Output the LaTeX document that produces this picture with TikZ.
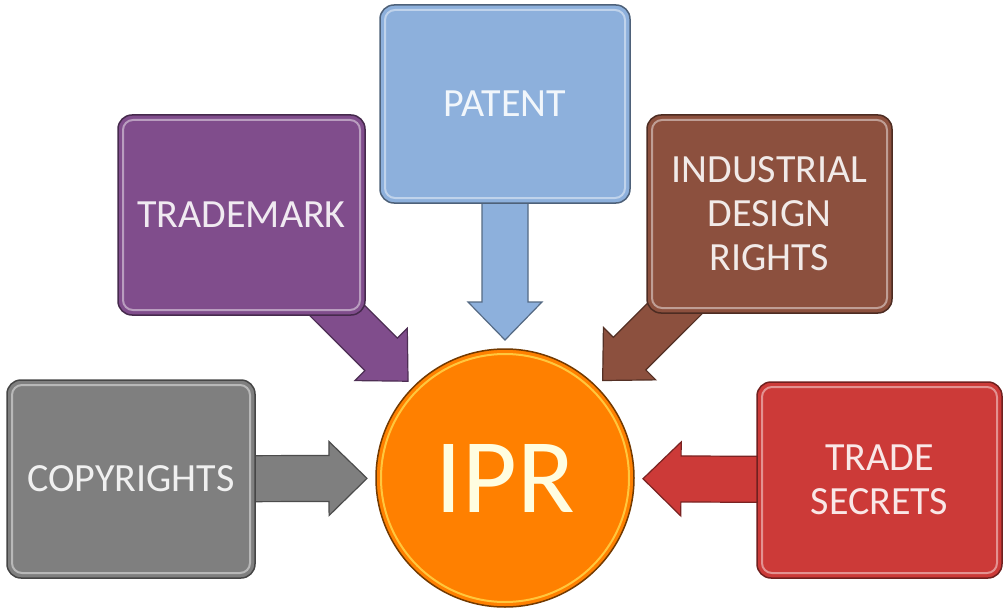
\documentclass[tikz,border=0pt]{standalone}
\usepackage{fontspec}
\setmainfont{Carlito}
\usetikzlibrary{calc,backgrounds}
\definecolor{cpatent}{RGB}{141,176,220}
\definecolor{ctrade}{RGB}{128,77,140}
\definecolor{cindus}{RGB}{140,80,62}
\definecolor{ccopy}{RGB}{127,127,127}
\definecolor{csecret}{RGB}{204,58,56}
\definecolor{cipr}{RGB}{255,128,0}
\tikzset{
  box/.style={rectangle, rounded corners=14pt, fill=#1, draw=#1!55!black, line width=1.5pt,
    text=white!88!#1, font=\fontsize{40}{44}\selectfont, align=center, inner sep=0pt,
    path picture={\draw[white, opacity=.45, line width=2pt, rounded corners=10pt]
      ([shift={(5pt,5pt)}]path picture bounding box.south west) rectangle
      ([shift={(-5pt,-5pt)}]path picture bounding box.north east);}},
  ipr/.style={circle, fill=cipr, draw=cipr!45!black, line width=1.5pt, inner sep=0pt,
    minimum size=258pt, text=white!88!yellow, font=\fontsize{106}{110}\selectfont,
    path picture={\draw[yellow!60!white, opacity=.6, line width=2pt]
      (path picture bounding box.center) circle[radius=124pt];}},
  barrow/.style={fill=#1, draw=#1!60!black, line width=1.2pt, line join=miter},
}
\newcommand\blockarrow[3]{%
  \path ($(#2)!38pt!(#1.center)$) coordinate (hb);
  \draw[barrow=#3] ($(#1.center)!23pt!90:(#2)$) -- ($(hb)!23pt!90:(#2)$)
    -- ($(hb)!37pt!90:(#2)$) -- (#2) -- ($(hb)!37pt!-90:(#2)$)
    -- ($(hb)!23pt!-90:(#2)$) -- ($(#1.center)!23pt!-90:(#2)$) -- cycle;}
\begin{document}
\begin{tikzpicture}[x=1pt,y=-1pt]
\useasboundingbox (0,0) rectangle (1005,610);
\node[box=cpatent, minimum width=250pt, minimum height=198pt] (patent) at (505,104) {PATENT};
\node[box=ctrade, minimum width=247pt, minimum height=200pt] (trademark) at (241.5,215) {TRADEMARK};
\node[box=cindus, minimum width=245pt, minimum height=198pt] (industrial) at (769.5,214) {INDUSTRIAL\\DESIGN\\RIGHTS};
\node[box=ccopy, minimum width=248pt, minimum height=198pt] (copyrights) at (131,479) {COPYRIGHTS};
\node[box=csecret, minimum width=245pt, minimum height=196pt] (secrets) at (879.5,480) {TRADE\\SECRETS};
\node[ipr] (ipr) at (505,478) {IPR};
\coordinate (tpatent) at ($(ipr.center)!138pt!(patent.center)$);
\coordinate (ttrademark) at ($(ipr.center)!137pt!(trademark.center)$);
\coordinate (tindustrial) at ($(ipr.center)!138pt!(industrial.center)$);
\coordinate (tcopyrights) at ($(ipr.center)!138pt!(copyrights.center)$);
\coordinate (tsecrets) at ($(ipr.center)!138pt!(secrets.center)$);
\begin{pgfonlayer}{background}
\fill[white] (0,0) rectangle (1005,610);
\blockarrow{patent}{tpatent}{cpatent}
\blockarrow{trademark}{ttrademark}{ctrade}
\blockarrow{industrial}{tindustrial}{cindus}
\blockarrow{copyrights}{tcopyrights}{ccopy}
\blockarrow{secrets}{tsecrets}{csecret}
\end{pgfonlayer}
\end{tikzpicture}
\end{document}
